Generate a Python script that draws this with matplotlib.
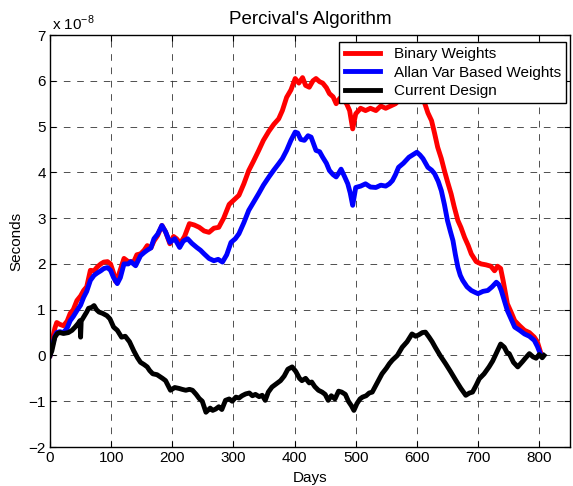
import numpy as np
import matplotlib.pyplot as plt

plt.rcParams['font.family'] = ['Liberation Sans', 'DejaVu Sans']

# values are in units of 1e-8 seconds
days_bin = [0, 3, 8, 11, 16, 22, 28, 33, 38, 44, 50, 55, 60, 66, 72, 77, 83, 88, 94, 99,
            104, 107, 112, 121, 128, 137, 142, 148, 154, 159, 165, 170, 176, 183, 189, 196,
            202, 207, 213, 220, 228, 236, 244, 252, 260, 268, 276, 284, 293, 301, 309, 317,
            325, 333, 341, 349, 358, 366, 374, 380, 387, 394, 401, 407, 413, 418, 424, 430,
            435, 441, 446, 452, 457, 463, 468, 474, 479, 485, 490, 495, 500, 508, 516, 524,
            533, 541, 549, 557, 565, 573, 581, 590, 600, 607, 613, 618, 624, 629, 634, 640,
            645, 650, 656, 661, 667, 672, 678, 684, 689, 697, 705, 713, 721, 727, 732, 737,
            741, 745, 748, 754, 760, 768, 776, 784, 792, 797, 803]
binary_w = [0.0, 0.3, 0.6, 0.72, 0.68, 0.65, 0.75, 0.92, 1.0, 1.2, 1.3, 1.42, 1.5, 1.86, 1.85,
            1.93, 2.0, 2.04, 2.05, 2.0, 1.8, 1.62, 1.75, 2.12, 2.05, 2.05, 2.2, 2.22, 2.3, 2.4,
            2.35, 2.5, 2.62, 2.84, 2.7, 2.44, 2.6, 2.55, 2.45, 2.6, 2.88, 2.85, 2.8, 2.72, 2.69,
            2.78, 2.8, 3.0, 3.3, 3.4, 3.5, 3.75, 4.04, 4.25, 4.47, 4.7, 4.9, 5.05, 5.17, 5.35,
            5.64, 5.8, 6.05, 5.95, 6.07, 5.9, 5.86, 6.0, 6.05, 5.98, 5.95, 5.85, 5.72, 5.65, 5.5,
            5.62, 5.6, 5.5, 5.35, 4.95, 5.28, 5.4, 5.35, 5.4, 5.35, 5.45, 5.4, 5.45, 5.5, 5.6,
            5.72, 5.85, 5.95, 5.8, 5.5, 5.3, 5.13, 4.85, 4.55, 4.3, 4.04, 3.8, 3.53, 3.25, 2.95,
            2.8, 2.58, 2.4, 2.22, 2.05, 2.0, 1.98, 1.95, 1.85, 1.95, 1.9, 1.64, 1.35, 1.13, 0.95,
            0.76, 0.65, 0.55, 0.5, 0.4, 0.3, 0.04]

days_allan = [0, 3, 8, 11, 16, 22, 28, 33, 38, 44, 50, 55, 60, 66, 72, 77, 83, 88, 94, 99,
              104, 110, 115, 121, 128, 132, 140, 148, 154, 159, 165, 170, 176, 183, 189, 196,
              204, 212, 218, 225, 232, 240, 246, 252, 260, 268, 275, 282, 289, 296, 303, 309,
              317, 325, 333, 341, 349, 358, 366, 374, 380, 387, 394, 401, 405, 410, 416, 422,
              427, 435, 441, 446, 452, 457, 463, 468, 472, 476, 482, 487, 491, 495, 500, 508,
              516, 524, 533, 541, 549, 555, 560, 565, 570, 578, 587, 593, 600, 605, 610, 618,
              624, 629, 635, 640, 645, 650, 655, 659, 663, 667, 671, 675, 682, 689, 695, 700,
              708, 716, 723, 730, 734, 738, 743, 748, 754, 760, 768, 776, 784, 792, 797, 803]
allan_w = [0.0, 0.18, 0.42, 0.5, 0.52, 0.5, 0.6, 0.76, 0.85, 0.98, 1.1, 1.27, 1.4, 1.64, 1.75,
           1.8, 1.85, 1.9, 1.92, 1.86, 1.7, 1.57, 1.7, 2.0, 2.0, 2.05, 1.96, 2.18, 2.25, 2.3,
           2.35, 2.55, 2.65, 2.84, 2.7, 2.47, 2.55, 2.36, 2.5, 2.55, 2.45, 2.36, 2.3, 2.22,
           2.12, 2.07, 2.1, 2.04, 2.2, 2.47, 2.55, 2.66, 2.9, 3.17, 3.35, 3.53, 3.72, 3.9, 4.05,
           4.19, 4.3, 4.48, 4.7, 4.88, 4.86, 4.72, 4.7, 4.8, 4.77, 4.48, 4.45, 4.33, 4.2, 4.04,
           3.95, 3.9, 3.98, 4.07, 3.9, 3.75, 3.55, 3.28, 3.67, 3.7, 3.75, 3.68, 3.67, 3.72, 3.7,
           3.75, 3.82, 3.95, 4.11, 4.2, 4.33, 4.38, 4.44, 4.38, 4.3, 4.11, 4.05, 3.97, 3.8, 3.6,
           3.3, 2.95, 2.7, 2.51, 2.2, 1.93, 1.75, 1.64, 1.5, 1.42, 1.38, 1.35, 1.4, 1.42, 1.5,
           1.6, 1.55, 1.42, 1.2, 0.98, 0.8, 0.62, 0.55, 0.47, 0.42, 0.33, 0.2, 0.0]

days_cur = [0, 3, 8, 12, 16, 22, 30, 36, 41, 46, 49, 50, 51, 55, 60, 63, 68, 72, 76, 80, 86,
            93, 98, 104, 110, 117, 123, 130, 137, 143, 148, 154, 159, 163, 168, 175, 184, 189,
            197, 204, 211, 216, 222, 228, 233, 239, 244, 249, 255, 262, 266, 271, 276, 281,
            287, 293, 298, 304, 309, 314, 320, 326, 331, 336, 342, 347, 352, 357, 363, 370,
            377, 383, 389, 396, 402, 408, 412, 418, 424, 428, 433, 439, 445, 450, 455, 460,
            466, 472, 477, 483, 488, 493, 497, 502, 507, 511, 517, 522, 527, 535, 543, 550,
            555, 560, 568, 576, 584, 592, 598, 603, 609, 614, 620, 625, 630, 638, 647, 655,
            664, 672, 680, 686, 691, 697, 702, 710, 718, 724, 730, 737, 743, 748, 751, 758,
            765, 773, 778, 784, 790, 795, 800, 805, 808]
current = [0.0, 0.1, 0.4, 0.48, 0.5, 0.48, 0.5, 0.55, 0.62, 0.7, 0.76, 0.4, 0.75, 0.84, 0.95,
           1.03, 1.05, 1.09, 1.0, 0.95, 0.92, 0.87, 0.8, 0.62, 0.55, 0.4, 0.42, 0.3, 0.1, -0.05,
           -0.15, -0.2, -0.25, -0.33, -0.4, -0.42, -0.5, -0.55, -0.76, -0.7, -0.72, -0.74,
           -0.76, -0.74, -0.76, -0.85, -0.94, -1.0, -1.24, -1.15, -1.2, -1.17, -1.12, -1.18,
           -0.98, -0.95, -1.0, -0.91, -0.93, -0.88, -0.84, -0.82, -0.88, -0.85, -0.9, -0.87,
           -0.98, -0.8, -0.69, -0.62, -0.55, -0.45, -0.3, -0.25, -0.35, -0.5, -0.55, -0.5,
           -0.6, -0.58, -0.68, -0.76, -0.8, -0.85, -0.98, -0.88, -0.95, -0.78, -0.8, -0.85,
           -1.0, -1.1, -1.2, -1.05, -0.95, -0.91, -0.88, -0.82, -0.8, -0.6, -0.4, -0.28, -0.18,
           -0.1, 0.0, 0.18, 0.3, 0.47, 0.42, 0.45, 0.5, 0.51, 0.4, 0.3, 0.18, 0.0, -0.18, -0.35,
           -0.55, -0.72, -0.87, -0.82, -0.8, -0.65, -0.51, -0.4, -0.25, -0.12, 0.05, 0.25, 0.18,
           0.05, 0.04, -0.15, -0.25, -0.13, -0.05, 0.04, -0.03, -0.06, 0.02, -0.05, 0.0]

fig = plt.figure(figsize=(5.73, 4.86), dpi=100)
ax = fig.add_axes([0.0873, 0.0802, 0.907, 0.8477])

ax.plot(days_bin, binary_w, color=(1, 0, 0), lw=3.5, label='Binary Weights')
ax.plot(days_allan, allan_w, color=(0, 0, 1), lw=3.5, label='Allan Var Based Weights')
ax.plot(days_cur, current, color=(0, 0, 0), lw=3.5, label='Current Design')

ax.set_xlim(0, 850)
ax.set_ylim(-2, 7)
ax.set_xticks(np.arange(0, 801, 100))
ax.set_yticks(np.arange(-2, 8, 1))
ax.tick_params(direction='in', top=True, right=True, length=4, labelsize=11, pad=3)
ax.grid(True, color='0.2', linestyle=(0, (8, 8)), lw=0.6)
for s in ax.spines.values():
    s.set_linewidth(1.0)

ax.text(0.004, 1.006, r'x 10$^{\mathregular{-8}}$', transform=ax.transAxes,
        fontsize=11, ha='left', va='bottom')
ax.set_title("Percival's Algorithm", fontsize=13.5, pad=8)
ax.set_xlabel('Days', fontsize=11, labelpad=4)
ax.set_ylabel('Seconds', fontsize=11, labelpad=4)

leg = ax.legend(loc='upper right', fontsize=11, fancybox=False, framealpha=1,
                edgecolor='black', bbox_to_anchor=(0.993, 0.984), borderaxespad=0,
                handlelength=2.3, borderpad=0.35, labelspacing=0.3, handletextpad=0.9)
leg.get_frame().set_linewidth(1.0)

plt.savefig('out.png', dpi=100)
